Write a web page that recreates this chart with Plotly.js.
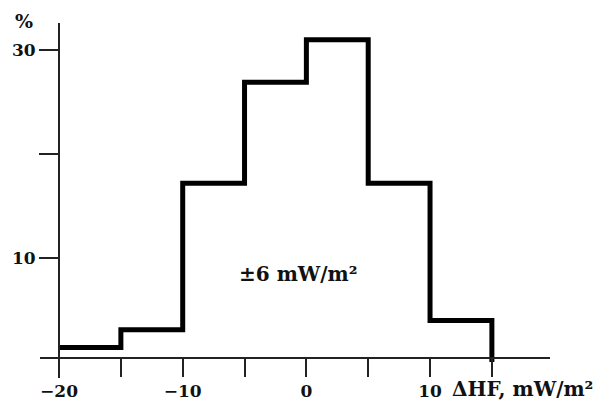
<!DOCTYPE html>
<html>
<head>
<meta charset="utf-8">
<script src="https://cdn.plot.ly/plotly-3.0.1.min.js"></script>
<style>html,body{margin:0;padding:0;background:#fff;}#chart{width:612px;height:409px;}</style>
</head>
<body>
<div id="chart"></div>
<script>
// Bin edges of ΔHF (mW/m²) and percentage of values in each bin
var binEdges = [-20, -15, -10, -5, 0, 5, 10, 15];
var percent = [1.4, 3.1, 17.2, 26.9, 31.0, 17.2, 4.0];
var xTickVals = [-20, -10, 0, 10];
var xTickText = ['\u221220', '\u221210', '0', '10'];
var xMinorVals = [-15, -5, 5, 15];
var yTickVals = [10, 30];
var yTickText = ['10', '30'];
var yMinorVals = [20];

var stepY = percent.concat([0]);

var fontFam = 'DejaVu Serif, Liberation Serif, serif';
var tickFont = {family: fontFam, size: 17, weight: 'bold', color: '#111'};
var annFont = {family: fontFam, size: 20, weight: 'bold', color: '#111'};

var trace = {
  x: binEdges,
  y: stepY,
  type: 'scatter',
  mode: 'lines',
  line: {shape: 'hv', color: '#000', width: 5},
  hoverinfo: 'none',
  cliponaxis: false
};

var layout = {
  width: 612, height: 409,
  margin: {l: 40, r: 62, t: 23, b: 31},
  paper_bgcolor: '#fff', plot_bgcolor: '#fff',
  showlegend: false,
  xaxis: {
    range: [-21.54, 19.7],
    anchor: 'free', position: 0.0563,
    showline: true, linecolor: '#222', linewidth: 2,
    ticks: 'outside', ticklen: 18, tickwidth: 2, tickcolor: '#222',
    tickmode: 'array', tickvals: xTickVals, ticktext: xTickText,
    minor: {tickmode: 'array', tickvals: xMinorVals, ticks: 'outside', ticklen: 18, tickwidth: 2, tickcolor: '#222', showgrid: false},
    tickfont: tickFont,
    showgrid: false, zeroline: false
  },
  yaxis: {
    range: [-1.54, 32.6],
    anchor: 'free', position: 0.0373,
    showline: true, linecolor: '#222', linewidth: 2,
    ticks: 'outside', ticklen: 19, tickwidth: 2, tickcolor: '#222',
    tickmode: 'array', tickvals: yTickVals, ticktext: yTickText,
    minor: {tickmode: 'array', tickvals: yMinorVals, ticks: 'outside', ticklen: 19, tickwidth: 2, tickcolor: '#222', showgrid: false},
    tickfont: tickFont,
    showgrid: false, zeroline: false
  },
  annotations: [
    {text: '%', xref: 'paper', yref: 'paper', x: -0.0314, y: 1.0056,
     xanchor: 'center', yanchor: 'middle', showarrow: false,
     font: {family: fontFam, size: 19, weight: 'bold', color: '#111'}},
    {text: '\u00b16 mW/m\u00b2', xref: 'x', yref: 'y', x: -5.59, y: 8.5,
     xanchor: 'left', yanchor: 'middle', showarrow: false, font: annFont},
    {text: '\u0394HF, mW/m\u00b2', xref: 'paper', yref: 'paper', x: 0.804, y: -0.03,
     xanchor: 'left', yanchor: 'middle', showarrow: false, font: annFont}
  ]
};

Plotly.newPlot('chart', [trace], layout, {displayModeBar: false, staticPlot: true});
</script>
</body>
</html>
